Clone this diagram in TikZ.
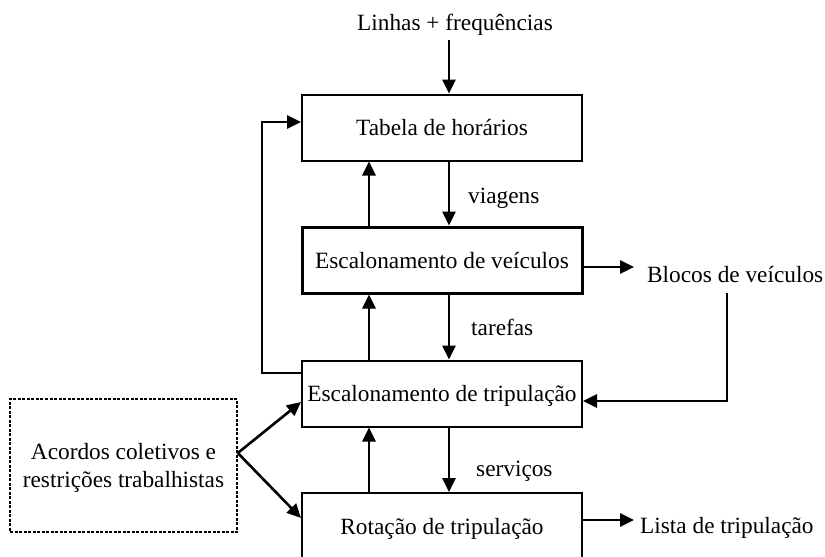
\documentclass[tikz,border=0pt]{standalone}
\usepackage{fontspec}
\setmainfont{Liberation Serif}
\usetikzlibrary{arrows.meta}

\begin{document}
\begin{tikzpicture}[x=1pt,y=-1pt,
  font=\fontsize{23.3}{28}\selectfont,
  blk/.style={draw,line width=2pt,minimum width=280pt,minimum height=66pt,
    inner sep=0pt,text height=16pt,text depth=0pt},
  lbl/.style={inner sep=0pt},
  ar/.style={line width=2.6pt,-{Triangle[length=14pt,width=13pt]}}]
\useasboundingbox (0,0) rectangle (825,557);

% caixas
\node[blk] (tab) at (442,127.5) {Tabela de horários};
\node[blk,line width=3pt] (vei) at (442,260) {Escalonamento de veículos};
\node[blk] (tri) at (442,393.5) {Escalonamento de tripulação};
\node[blk] (rot) at (442,526) {Rotação de tripulação};
\node[draw,line width=1.6pt,dash pattern=on 3pt off 1.5pt,minimum width=227pt,
  minimum height=133pt,align=center,text depth=0pt] (acd) at (123.5,465.5)
  {Acordos coletivos e\\restrições trabalhistas};

% textos
\node[lbl,anchor=base] (lin) at (455,30) {Linhas + frequências};
\node[lbl,anchor=base west] (blo) at (647,282) {Blocos de veículos};
\node[lbl,anchor=base west] (lis) at (640,533) {Lista de tripulação};
\node[lbl,anchor=base west] (via) at (468,203) {viagens};
\node[lbl,anchor=base west] (tar) at (471,335) {tarefas};
\node[lbl,anchor=base west] (ser) at (476,476) {serviços};

% setas
\draw[ar] ([shift={(-6pt,-10pt)}]lin.base) -- ([xshift=7pt]tab.north);
\foreach \a/\b in {tab/vei,vei/tri,tri/rot} {
  \draw[ar] ([xshift=7pt]\a.south) -- ([xshift=7pt]\b.north);
  \draw[ar] ([xshift=-73pt]\b.north) -- ([xshift=-73pt]\a.south);
}
\draw[ar] ([yshift=20.5pt]tri.west) -| (262,122) -- ([yshift=5.5pt]tab.west);
\draw[ar,shorten >=13pt] ([yshift=-7pt]vei.east) -- ([yshift=-7pt]vei.east -| blo.west);
\draw[ar] ([shift={(80pt,-11pt)}]blo.base west) |- ([yshift=-7.5pt]tri.east);
\draw[ar,shorten >=6pt] ([yshift=6pt]rot.east) -- ([yshift=6pt]rot.east -| lis.west);
\draw[ar] ([yshift=12.5pt]acd.east) -- ([yshift=-8.5pt]tri.west);
\draw[ar] ([yshift=12.5pt]acd.east) -- ([yshift=8pt]rot.west);
\end{tikzpicture}
\end{document}
